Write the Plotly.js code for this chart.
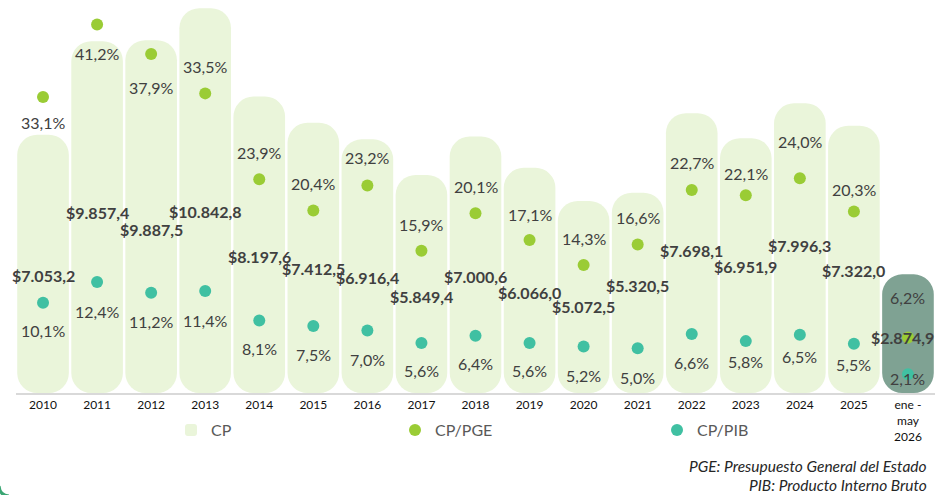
<!DOCTYPE html>
<html>
<head>
<meta charset="utf-8">
<script src="https://cdn.plot.ly/plotly-3.0.1.min.js"></script>
<style>html,body{margin:0;padding:0;background:#fff;}#chart{width:935px;height:495px;}</style>
</head>
<body>
<div id="chart"></div>
<script>
// ---- data ----
const categories = ['2010','2011','2012','2013','2014','2015','2016','2017','2018','2019','2020','2021','2022','2023','2024','2025','ene -<br>may<br>2026'];
const cp     = [7053.2, 9857.4, 9887.5, 10842.8, 8197.6, 7412.5, 6916.4, 5849.4, 7000.6, 6066.0, 5072.5, 5320.5, 7698.1, 6951.9, 7996.3, 7322.0, 2874.9];
const cpPge  = [33.1, 41.2, 37.9, 33.5, 23.9, 20.4, 23.2, 15.9, 20.1, 17.1, 14.3, 16.6, 22.7, 22.1, 24.0, 20.3, 6.2];
const cpPib  = [10.1, 12.4, 11.2, 11.4, 8.1, 7.5, 7.0, 5.6, 6.4, 5.6, 5.2, 5.0, 6.6, 5.8, 6.5, 5.5, 2.1];
const seriesNames = ['CP', 'CP/PGE', 'CP/PIB'];
const notes = ['PGE: Presupuesto General del Estado', 'PIB: Producto Interno Bruto'];

// ---- layout / style constants (label offsets in px) ----
const cpLabelShift  = [141, 171, 189, 203, 160, 146, 138, 121, 140, 125, 106, 93, 137, 128, 142, 145, 63]; // down from bar top
const pgeLabelShift = [-26, -29, -33, 27, 27, 27, 28, 26, 27, 26, 27, 27, 27, 22, 37, 22, 40];           // up from dot
const pibLabelShift = [28, 29, 29, 29, 28, 29, 29, 28, 28, 28, 29, 29, 29, 20, 22, 21, 4];               // down from dot

const Y_MIN = -677, Y_MAX = 11089, Y2_MAX = 43.94;
const FONT = 'Lato, "Open Sans", sans-serif';
const LIGHT = '#EAF5DA', DARK = '#7FA293', PGE_C = '#9ACC35', PIB_C = '#40C0A2';
const TXT = '#404040';

const fmtMoney = v => {
  const [i, d] = v.toFixed(1).split('.');
  return '$' + i.replace(/\B(?=(\d{3})+(?!\d))/g, '.') + ',' + d;
};
const fmtPct = v => v.toFixed(1).replace('.', ',') + '%';

const last = categories.length - 1;

const traces = [
  {
    type: 'bar', name: seriesNames[0], x: categories,
    y: cp.map(v => v - Y_MIN), base: Y_MIN,
    marker: {color: categories.map((c, i) => i === last ? DARK : LIGHT), cornerradius: 20, line: {width: 0}},
    hoverinfo: 'skip', legend: 'legend'
  },
  {
    type: 'scatter', mode: 'markers', name: seriesNames[1], x: categories, y: cpPge, yaxis: 'y2',
    marker: {color: PGE_C, size: 12}, cliponaxis: false, hoverinfo: 'skip', legend: 'legend2'
  },
  {
    type: 'scatter', mode: 'markers', name: seriesNames[2], x: categories, y: cpPib, yaxis: 'y2',
    marker: {color: PIB_C, size: 12}, cliponaxis: false, hoverinfo: 'skip', legend: 'legend3'
  }
];

const annotations = [];
categories.forEach((c, i) => {
  annotations.push({x: i, y: cp[i], xref: 'x', yref: 'y', text: '<b>' + fmtMoney(cp[i]) + '</b>',
    showarrow: false, yanchor: 'middle', yshift: -cpLabelShift[i], xshift: i === last ? -5 : 0,
    font: {family: FONT, size: 16, color: TXT}});
  annotations.push({x: i, y: cpPge[i], xref: 'x', yref: 'y2', text: fmtPct(cpPge[i]),
    showarrow: false, yanchor: 'middle', yshift: pgeLabelShift[i],
    font: {family: FONT, size: 16, color: TXT}});
  annotations.push({x: i, y: cpPib[i], xref: 'x', yref: 'y2', text: fmtPct(cpPib[i]),
    showarrow: false, yanchor: 'middle', yshift: -pibLabelShift[i],
    font: {family: FONT, size: 16, color: TXT}});
});
notes.forEach((t, k) => {
  annotations.push({x: 1, y: 0, xref: 'paper', yref: 'paper', text: '<i>' + t + '</i>',
    showarrow: false, xanchor: 'right', yanchor: 'middle', xshift: -6, yshift: -(73 + 19 * k),
    font: {family: FONT, size: 15.5, color: '#262626'}});
});

const PX = x => (x - 16) / 919;
const PY = y => (393 - y) / 393;

const legendBase = {orientation: 'h', xref: 'container', yref: 'container', xanchor: 'left', yanchor: 'middle',
  y: 1 - 430 / 495, bgcolor: 'rgba(0,0,0,0)', borderwidth: 0,
  font: {family: FONT, size: 16, color: '#595959'}};

const layout = {
  width: 935, height: 495,
  margin: {l: 16, r: 0, t: 0, b: 102, pad: 0},
  paper_bgcolor: '#fff', plot_bgcolor: '#fff',
  bargap: 0.045,
  xaxis: {type: 'category', range: [-0.5, 16.5], showgrid: false, zeroline: false, fixedrange: true,
    showline: true, linecolor: '#D9D9D9', linewidth: 2, ticks: '',
    tickfont: {family: FONT, size: 12, color: '#111'}},
  yaxis: {range: [Y_MIN, Y_MAX], visible: false, fixedrange: true},
  yaxis2: {range: [0, Y2_MAX], overlaying: 'y', visible: false, fixedrange: true},
  legend: Object.assign({}, legendBase, {x: 171 / 935}),
  legend2: Object.assign({}, legendBase, {x: 395 / 935}),
  legend3: Object.assign({}, legendBase, {x: 657 / 935}),
  annotations: annotations,
  shapes: [{type: 'path', xref: 'paper', yref: 'paper', layer: 'above',
    path: 'M ' + PX(-1) + ',' + PY(486) + ' Q ' + PX(0) + ',' + PY(496) + ' ' + PX(9) + ',' + PY(496),
    line: {color: '#3AA673', width: 3}}],
  showlegend: true
};

Plotly.newPlot('chart', traces, layout, {displayModeBar: false, staticPlot: true});
</script>
</body>
</html>
